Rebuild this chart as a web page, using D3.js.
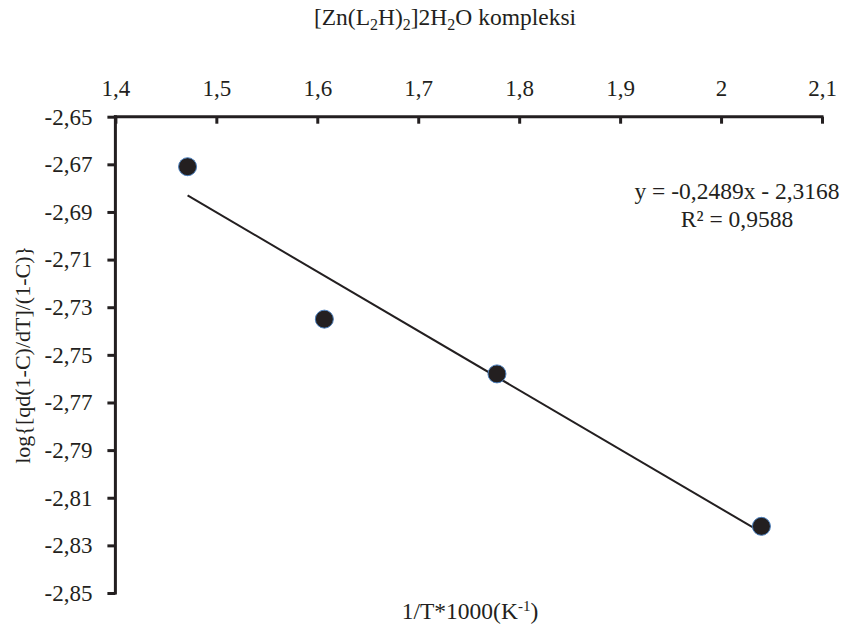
<!DOCTYPE html>
<html>
<head>
<meta charset="utf-8">
<script src="https://cdn.jsdelivr.net/npm/d3@7"></script>
<style>
  html, body { margin: 0; padding: 0; background: #fff; }
  svg { display: block; font-family: "Liberation Serif", "Times New Roman", serif; }
</style>
</head>
<body>
<svg id="chart" width="845" height="632"></svg>
<script>
// ---- data ----
const xValues = [1.4715, 1.607, 1.778, 2.040];
const yValues = [-2.671, -2.735, -2.758, -2.822];
const xTicks = [1.4, 1.5, 1.6, 1.7, 1.8, 1.9, 2.0, 2.1];
const yTicks = [-2.65, -2.67, -2.69, -2.71, -2.73, -2.75, -2.77, -2.79, -2.81, -2.83, -2.85];
const trendSlope = [-0.2489];
const trendIntercept = [-2.3168];
const rSquared = [0.9588];

const svg = d3.select("#chart");
const W = 845, H = 632;
const margin = { left: 115.4, right: W - 822, top: 116.7, bottom: H - 593 };

const x = d3.scaleLinear().domain([1.4, 2.1]).range([margin.left, W - margin.right]);
const y = d3.scaleLinear().domain([-2.65, -2.85]).range([margin.top, H - margin.bottom]);

const fmt = v => (Math.round(v * 100) / 100).toString().replace(".", ",");
const fmt4 = v => v.toFixed(4).replace(".", ",");
const ink = "#231f20";
const FONT = "Liberation Serif";

// x axis on top, ticks pointing down
const xAxis = d3.axisTop(x).tickValues(xTicks).tickSize(0).tickPadding(0).tickFormat(fmt);
const gx = svg.append("g").attr("transform", `translate(0,${margin.top})`).call(xAxis);
gx.select(".domain").remove();
gx.selectAll(".tick line").remove();
gx.selectAll(".tick").append("line")
  .attr("y1", 0).attr("y2", 7).attr("stroke", ink).attr("stroke-width", 3);
gx.selectAll(".tick text").attr("y", -21).attr("fill", ink)
  .style("font-size", "23px").style("font-family", FONT);
gx.append("line").attr("x1", x(1.4) - 1.5).attr("x2", x(2.1) + 1.5).attr("y1", 0).attr("y2", 0)
  .attr("stroke", ink).attr("stroke-width", 3);

// y axis left, ticks pointing left
const yAxis = d3.axisLeft(y).tickValues(yTicks).tickSize(0).tickPadding(0).tickFormat(fmt);
const gy = svg.append("g").attr("transform", `translate(${margin.left},0)`).call(yAxis);
gy.select(".domain").remove();
gy.selectAll(".tick line").remove();
gy.selectAll(".tick").append("line")
  .attr("x1", 0).attr("x2", -8).attr("stroke", ink).attr("stroke-width", 3);
gy.selectAll(".tick text").attr("x", -23).attr("fill", ink)
  .style("font-size", "23px").style("font-family", FONT);
gy.append("line").attr("x1", 0).attr("x2", 0).attr("y1", y(-2.65) - 1.5).attr("y2", y(-2.85) + 1.5)
  .attr("stroke", ink).attr("stroke-width", 3);

// trendline
const x0 = d3.min(xValues), x1 = d3.max(xValues);
const trend = [x0, x1].map(v => [v, trendSlope[0] * v + trendIntercept[0]]);
svg.append("path")
  .attr("d", d3.line().x(d => x(d[0])).y(d => y(d[1]))(trend))
  .attr("stroke", ink).attr("stroke-width", 2).attr("fill", "none");

// points
svg.selectAll("circle.pt").data(xValues.map((v, i) => [v, yValues[i]]))
  .enter().append("circle").attr("class", "pt")
  .attr("cx", d => x(d[0])).attr("cy", d => y(d[1])).attr("r", 9)
  .attr("fill", ink).attr("stroke", "#4a7ebb").attr("stroke-width", 1);

// equation
const eq = svg.append("text").attr("text-anchor", "middle").attr("fill", ink)
  .style("font-size", "23.5px");
eq.append("tspan").attr("x", 737).attr("y", 199)
  .text(`y = ${fmt4(trendSlope[0])}x - ${fmt4(-trendIntercept[0])}`);
eq.append("tspan").attr("x", 737).attr("y", 227)
  .text(`R² = ${fmt4(rSquared[0])}`);

// title
const title = svg.append("text").attr("x", 445).attr("y", 25).attr("text-anchor", "middle")
  .attr("fill", ink).style("font-size", "23.5px");
title.append("tspan").text("[Zn(L");
title.append("tspan").attr("dy", 5).style("font-size", "16px").text("2");
title.append("tspan").attr("dy", -5).text("H)");
title.append("tspan").attr("dy", 5).style("font-size", "16px").text("2");
title.append("tspan").attr("dy", -5).text("]2H");
title.append("tspan").attr("dy", 5).style("font-size", "16px").text("2");
title.append("tspan").attr("dy", -5).text("O kompleksi");

// x label
const xl = svg.append("text").attr("x", 470).attr("y", 619).attr("text-anchor", "middle")
  .attr("fill", ink).style("font-size", "23.5px");
xl.append("tspan").text("1/T*1000(K");
xl.append("tspan").attr("dy", -8).style("font-size", "15px").text("-1");
xl.append("tspan").attr("dy", 8).text(")");

// y label
svg.append("text").attr("transform", `translate(30,${(margin.top + H - margin.bottom) / 2}) rotate(-90)`)
  .attr("text-anchor", "middle").attr("fill", ink).style("font-size", "22px")
  .text("log{[qd(1-C)/dT]/(1-C)}");
</script>
</body>
</html>
